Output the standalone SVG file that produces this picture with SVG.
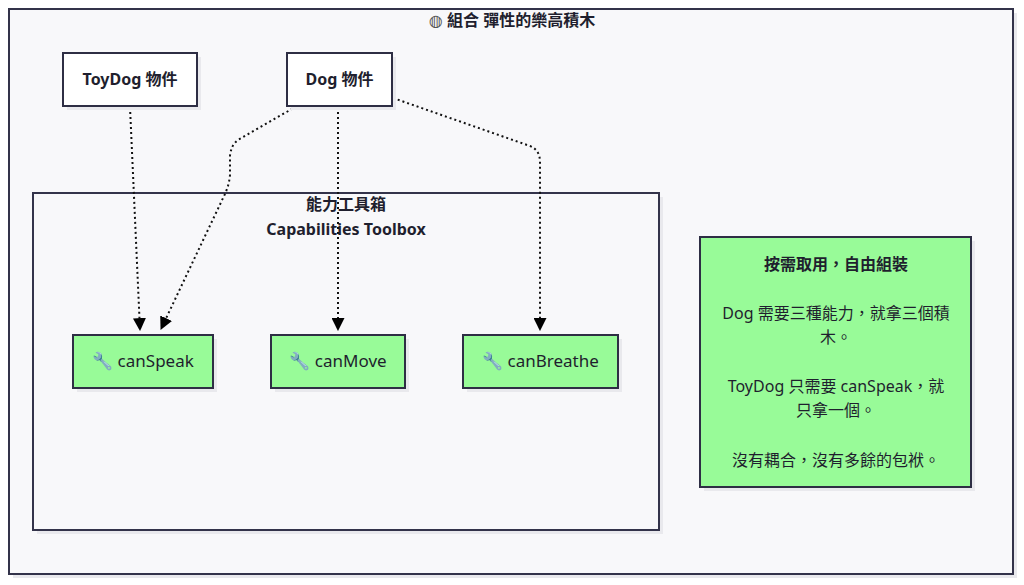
<svg xmlns="http://www.w3.org/2000/svg" width="1024" height="585" viewBox="0 0 1024 585">
<defs>
<style>
.t{font-family:"Noto Sans","Noto Sans CJK TC",sans-serif;fill:#1f1f2e;text-anchor:middle}
.b{font-weight:bold}
.sym{font-family:"DejaVu Sans",sans-serif;fill:#555}
.frame{fill:#f8f8fa;stroke:#33334a;stroke-width:2}
.shadow{fill:#e9e9ed}
.white{fill:#ffffff;stroke:#2e2e44;stroke-width:2}
.green{fill:#98fb98;stroke:#2e2e44;stroke-width:2}
.edge{fill:none;stroke:#111;stroke-width:2;stroke-dasharray:2 3}
</style>
<marker id="ah" viewBox="0 0 12 12" refX="11" refY="6" markerWidth="13" markerHeight="13" orient="auto" markerUnits="userSpaceOnUse">
<path d="M0,0 L12,6 L0,12 z" fill="#000"/>
</marker>
</defs>
<rect width="1024" height="585" fill="#ffffff"/>
<g id="outer">
<rect class="shadow" x="13" y="13" width="1004" height="565"/>
<rect class="frame" x="9" y="9" width="1004" height="565"/>
<text class="t b" x="512" y="26" font-size="16"><tspan class="sym">◍</tspan> 組合 彈性的樂高積木</text>
</g>
<g id="toolbox">
<rect class="shadow" x="37" y="197" width="626" height="337"/>
<rect class="frame" x="33" y="193" width="626" height="337"/>
<text class="t b" x="346" y="210" font-size="16">能力工具箱</text>
<text class="t b" x="346" y="235" font-size="16">Capabilities Toolbox</text>
</g>
<g id="connectors">
<path class="edge" d="M130,107 L140,330" marker-end="url(#ah)"/>
<path class="edge" d="M297,106 L238,140 Q231,145 230,156 L230,175 Q229,186 224,196 L161,329" marker-end="url(#ah)"/>
<path class="edge" d="M338,107 L338,330" marker-end="url(#ah)"/>
<path class="edge" d="M393,98 L530,146 Q540,150 540,162 L540,330" marker-end="url(#ah)"/>
</g>
<g id="toydog">
<rect class="shadow" x="67" y="57" width="134" height="53"/>
<rect class="white" x="63" y="53" width="134" height="53"/>
<text class="t b" x="130" y="85" font-size="16">ToyDog 物件</text>
</g>
<g id="dog">
<rect class="shadow" x="291" y="57" width="105" height="53"/>
<rect class="white" x="287" y="53" width="105" height="53"/>
<text class="t b" x="339.5" y="85" font-size="16">Dog 物件</text>
</g>
<g id="canSpeak">
<rect class="shadow" x="77" y="339" width="140" height="53"/>
<rect class="green" x="73" y="335" width="140" height="53"/>
<text class="t" x="143" y="367" font-size="17">🔧 canSpeak</text>
</g>
<g id="canMove">
<rect class="shadow" x="275" y="339" width="134" height="53"/>
<rect class="green" x="271" y="335" width="134" height="53"/>
<text class="t" x="338" y="367" font-size="17">🔧 canMove</text>
</g>
<g id="canBreathe">
<rect class="shadow" x="467" y="339" width="155" height="53"/>
<rect class="green" x="463" y="335" width="155" height="53"/>
<text class="t" x="540.5" y="367" font-size="17">🔧 canBreathe</text>
</g>
<g id="note">
<rect class="shadow" x="704" y="241" width="271" height="250"/>
<rect class="green" x="700" y="237" width="271" height="250"/>
<text class="t b" x="836" y="270" font-size="16">按需取用，自由組裝</text>
<text class="t" x="836" y="319" font-size="16">Dog 需要三種能力，就拿三個積</text>
<text class="t" x="836" y="343" font-size="16">木。</text>
<text class="t" x="836" y="392" font-size="16">ToyDog 只需要 canSpeak，就</text>
<text class="t" x="836" y="416" font-size="16">只拿一個。</text>
<text class="t" x="836" y="466" font-size="16">沒有耦合，沒有多餘的包袱。</text>
</g>
</svg>
